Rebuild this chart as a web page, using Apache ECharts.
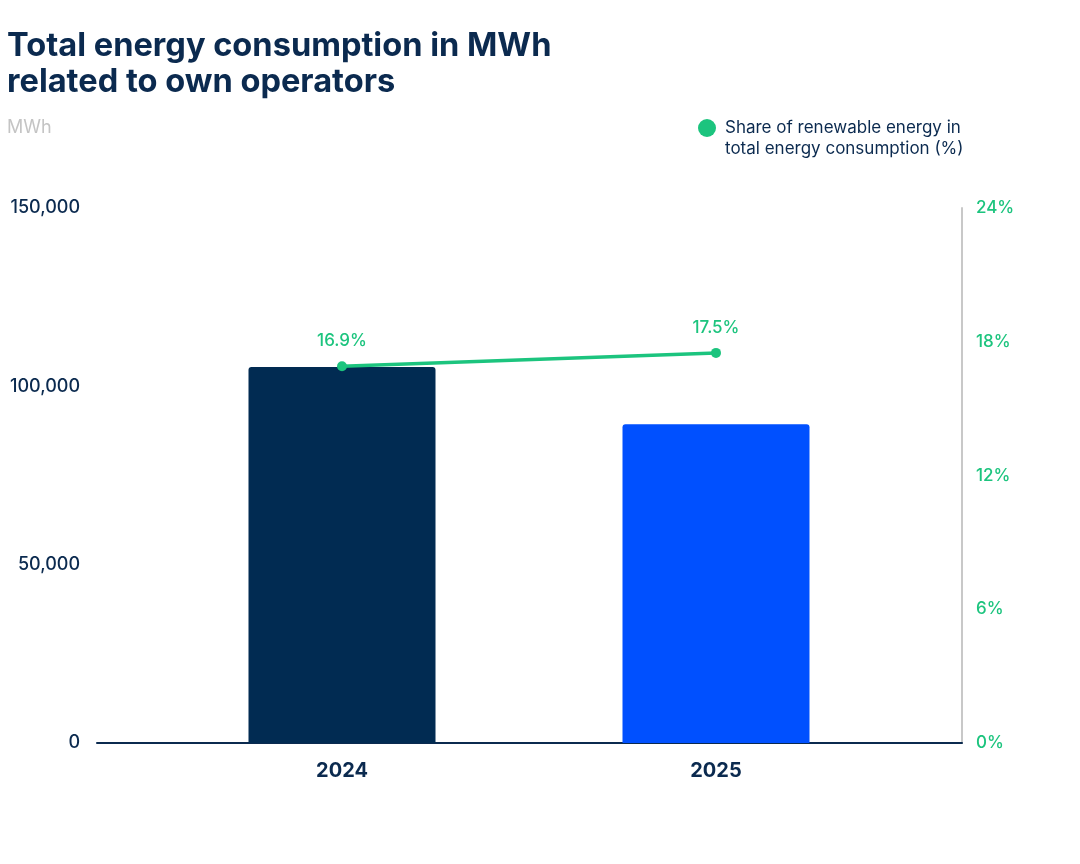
<!DOCTYPE html>
<html>
<head>
<meta charset="utf-8">
<script src="https://cdn.jsdelivr.net/npm/echarts@6/dist/echarts.min.js"></script>
<style>
  html, body { margin: 0; padding: 0; background: #fff; }
  #chart { width: 1080px; height: 864px; }
</style>
</head>
<body>
<div id="chart"></div>
<script>
var years = ['2024', '2025'];
var consumption = [105400, 89400];
var renewableShare = [16.9, 17.5];
var barColors = ['#012B52', '#0050FF'];
var shareName = 'Share of renewable energy in';
var shareNameCont = 'total energy consumption (%)';

var navy = '#0B2A4F';
var green = '#1CC47E';

var chart = echarts.init(document.getElementById('chart'));

chart.setOption({
  backgroundColor: '#fff',
  textStyle: { fontFamily: 'Inter' },
  title: [
    {
      text: 'Total energy consumption in MWh\nrelated to own operators',
      left: 7, top: 28, padding: 0,
      textStyle: { color: navy, fontSize: 32.6, fontWeight: 'bold', lineHeight: 36, fontFamily: 'Inter' }
    },
    {
      text: 'MWh',
      left: 7, top: 119, padding: 0,
      textStyle: { color: '#C4C4C4', fontSize: 18, fontWeight: 'normal', fontFamily: 'Inter' }
    },
    {
      text: shareNameCont,
      left: 725, top: 140, padding: 0,
      textStyle: { color: navy, fontSize: 17, fontWeight: 'normal', fontFamily: 'Inter' }
    }
  ],
  legend: {
    data: [shareName],
    left: 698, top: 119, padding: 0,
    icon: 'circle',
    itemWidth: 18, itemHeight: 18,
    textStyle: { color: navy, fontSize: 17, padding: [0, 0, 0, 4] }
  },
  grid: [
    { left: 155, right: 177, top: 208, bottom: 121 },
    { left: 97, right: 118, top: 208, bottom: 121 }
  ],
  xAxis: [
    {
      type: 'category',
      gridIndex: 0,
      data: years,
      axisLine: { show: false },
      axisTick: { show: false },
      axisLabel: { color: navy, fontSize: 20, fontWeight: 'bold', margin: 18 }
    },
    {
      type: 'value',
      gridIndex: 1,
      min: 0, max: 1,
      axisLine: { show: true, onZero: false, lineStyle: { color: '#0B2A4F', width: 2 } },
      axisTick: { show: false },
      axisLabel: { show: false },
      splitLine: { show: false }
    }
  ],
  yAxis: [
    {
      type: 'value',
      gridIndex: 0,
      min: 0, max: 150000, interval: 50000,
      offset: 58,
      axisLine: { show: false },
      axisTick: { show: false },
      splitLine: { show: false },
      axisLabel: {
        color: navy, fontSize: 18, fontWeight: 500, margin: 17,
        formatter: function (v) { return v.toLocaleString('en-US'); }
      }
    },
    {
      type: 'value',
      gridIndex: 0,
      position: 'right',
      min: 0, max: 24, interval: 6,
      offset: 59,
      axisLine: { show: true, lineStyle: { color: '#C8C8C8', width: 2 } },
      axisTick: { show: false },
      splitLine: { show: false },
      axisLabel: { color: green, fontSize: 17, fontWeight: 500, margin: 14, formatter: '{value}%' }
    },
    {
      type: 'value',
      gridIndex: 1,
      min: 0, max: 1,
      show: false
    }
  ],
  series: [
    {
      name: 'Total energy consumption',
      type: 'bar',
      xAxisIndex: 0, yAxisIndex: 0,
      barWidth: '50%',
      data: consumption.map(function (v, i) {
        return { value: v, itemStyle: { color: barColors[i], borderRadius: [3, 3, 0, 0] } };
      })
    },
    {
      name: shareName,
      type: 'line',
      xAxisIndex: 0, yAxisIndex: 1,
      data: renewableShare,
      symbol: 'circle',
      symbolSize: 10,
      itemStyle: { color: green },
      lineStyle: { color: green, width: 3.5 },
      label: {
        show: true, position: 'top', distance: 12,
        color: green, fontSize: 17, fontWeight: 500,
        formatter: '{c}%'
      },
      z: 5
    }
  ]
});
</script>
</body>
</html>
